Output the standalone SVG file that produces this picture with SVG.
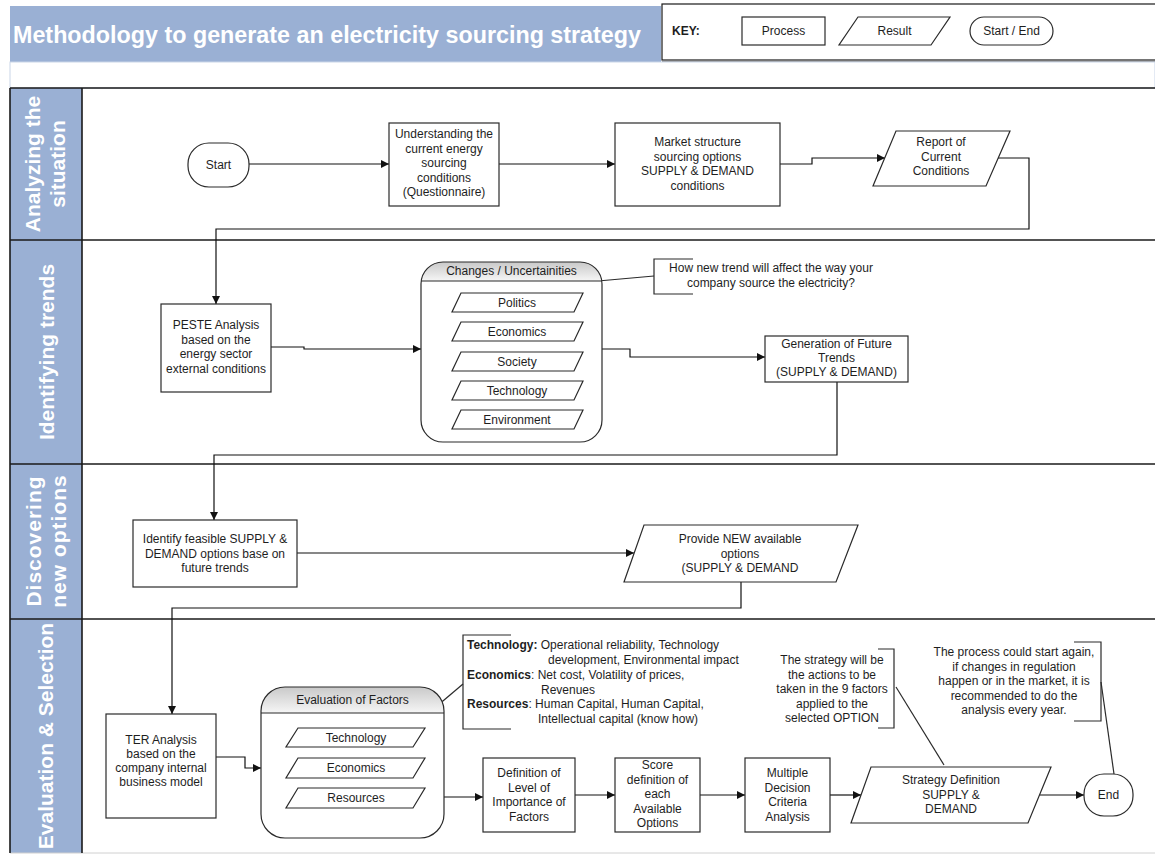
<svg xmlns="http://www.w3.org/2000/svg" width="1155" height="856" viewBox="0 0 1155 856">
  <defs>
    <marker id="arrow" viewBox="0 0 10 10" refX="10" refY="5" markerWidth="9" markerHeight="8" markerUnits="userSpaceOnUse" orient="auto">
      <path d="M0,0 L10,5 L0,10 z" fill="#111"/>
    </marker>
    <marker id="arrowSmall" viewBox="0 0 10 10" refX="10" refY="5" markerWidth="7" markerHeight="7" markerUnits="userSpaceOnUse" orient="auto">
      <path d="M0,0 L10,5 L0,10 z" fill="#111"/>
    </marker>
    <linearGradient id="hdrGrad" x1="0" y1="0" x2="0" y2="1">
      <stop offset="0" stop-color="#c9c9c9"/>
      <stop offset="1" stop-color="#f6f6f6"/>
    </linearGradient>
    <style>
      .txt { font-family: "Liberation Sans", Arial, sans-serif; font-size: 12px; fill: #1e1e1e; }
      .mid { text-anchor: middle; }
      .bold { font-weight: bold; }
      .lane { font-family: "Liberation Sans", Arial, sans-serif; font-size: 21px; font-weight: bold; fill: #ffffff; text-anchor: middle; }
      .title { font-family: "Liberation Sans", Arial, sans-serif; font-size: 23px; font-weight: bold; fill: #ffffff; }
      .box { fill: #ffffff; stroke: #2a2a2a; stroke-width: 1.2; }
      .conn { fill: none; stroke: #111; stroke-width: 1.2; }
      .note { fill: none; stroke: #2a2a2a; stroke-width: 1.2; }
      .border { stroke: #1a1a1a; stroke-width: 1.6; }
    </style>
  </defs>

  <rect x="0" y="0" width="1155" height="856" fill="#ffffff"/>

  <!-- Title bar -->
  <g id="title">
    <rect x="10" y="6" width="651" height="56" fill="#9ab0d4"/>
    <text class="title" x="13" y="43" textLength="628" lengthAdjust="spacingAndGlyphs">Methodology to generate an electricity sourcing strategy</text>
  </g>

  <!-- Legend -->
  <g id="key">
    <rect x="662" y="4" width="495" height="56" fill="#ffffff" stroke="#1a1a1a" stroke-width="1.2"/>
    <line x1="662" y1="62" x2="1155" y2="62" stroke="#1a1a1a" stroke-width="1.2"/>
    <text class="txt bold" x="672" y="35">KEY:</text>
    <rect class="box" x="742" y="17" width="83" height="28"/>
    <text class="txt mid" x="783.5" y="35">Process</text>
    <polygon class="box" points="858,17 950,17 931,45 839,45"/>
    <text class="txt mid" x="894.5" y="35">Result</text>
    <rect class="box" x="970" y="17" width="83" height="28" rx="14"/>
    <text class="txt mid" x="1011.5" y="35">Start / End</text>
  </g>

  <!-- Gap strip under the title -->
  <rect x="10" y="62" width="1145" height="26" fill="#ffffff" stroke="#c9d5e8" stroke-width="1"/>

  <!-- Swimlanes -->
  <g id="lanes">
    <rect x="10" y="88" width="72" height="765" fill="#9ab0d4"/>
    <line class="border" x1="10" y1="88" x2="1155" y2="88"/>
    <line class="border" x1="10" y1="240" x2="1155" y2="240"/>
    <line class="border" x1="10" y1="464" x2="1155" y2="464"/>
    <line class="border" x1="10" y1="619" x2="1155" y2="619"/>
    <line x1="10" y1="853" x2="1155" y2="853" stroke="#d0d0d0" stroke-width="1"/>
    <line class="border" x1="10" y1="88" x2="10" y2="853"/>
    <line class="border" x1="82" y1="88" x2="82" y2="853"/>

    <text class="lane" transform="translate(40,164) rotate(-90)">Analyzing the</text>
    <text class="lane" transform="translate(65,164) rotate(-90)">situation</text>
    <text class="lane" transform="translate(54,352) rotate(-90)">Identifying trends</text>
    <text class="lane" transform="translate(41,541) rotate(-90)" letter-spacing="1">Discovering</text>
    <text class="lane" transform="translate(66,541) rotate(-90)" letter-spacing="1">new options</text>
    <text class="lane" transform="translate(53,736) rotate(-90)">Evaluation &amp; Selection</text>
  </g>

  <!-- Connectors -->
  <g id="connectors">
    <path class="conn" d="M249,164 H389" marker-end="url(#arrow)"/>
    <path class="conn" d="M499,164 H615" marker-end="url(#arrow)"/>
    <path class="conn" d="M780,164 H812 V158 H885" marker-end="url(#arrow)"/>
    <path class="conn" d="M998,158 H1029 V229 H216 V304" marker-end="url(#arrow)"/>
    <path class="conn" d="M271,347 H304 V349 H421" marker-end="url(#arrow)"/>
    <path class="conn" d="M602,349 H630 V357 H765" marker-end="url(#arrow)"/>
    <path class="conn" d="M837,382 V455 H214 V520" marker-end="url(#arrow)"/>
    <path class="conn" d="M297,553 H634" marker-end="url(#arrow)"/>
    <path class="conn" d="M741,582 V608 H172 V714" marker-end="url(#arrow)"/>
    <path class="conn" d="M216,757 H245 V768 H261" marker-end="url(#arrow)"/>
    <path class="conn" d="M444,797 H483" marker-end="url(#arrow)"/>
    <path class="conn" d="M575,795 H615" marker-end="url(#arrow)"/>
    <path class="conn" d="M700,795 H745" marker-end="url(#arrow)"/>
    <path class="conn" d="M830,795 H861" marker-end="url(#arrow)"/>
    <path class="conn" d="M1040,795 H1084" marker-end="url(#arrow)"/>
    <!-- internal links inside the containers -->
    <path class="conn" d="M517,322 V312" marker-end="url(#arrowSmall)"/>
    <path class="conn" d="M517,381 V371" marker-end="url(#arrowSmall)"/>
    <path class="conn" d="M356,758 V747" marker-end="url(#arrowSmall)"/>
    <path class="conn" d="M356,788 V778" marker-end="url(#arrowSmall)"/>
    <!-- annotation leaders -->
    <path class="note" d="M598,281 L654,276"/>
    <path class="note" d="M437,706 L463,684"/>
    <path class="note" d="M896,687 L944,765"/>
    <path class="note" d="M1101,682 L1114,774"/>
  </g>

  <!-- Lane 1 -->
  <g id="start">
    <rect class="box" x="188" y="143" width="61" height="44" rx="21"/>
    <text class="txt mid" x="218.5" y="169">Start</text>
  </g>
  <g id="understanding">
    <rect class="box" x="389" y="123" width="110" height="83"/>
    <text class="txt mid" y="138"><tspan x="444">Understanding the</tspan><tspan x="444" dy="14.5">current energy</tspan><tspan x="444" dy="14.5">sourcing</tspan><tspan x="444" dy="14.5">conditions</tspan><tspan x="444" dy="14.5">(Questionnaire)</tspan></text>
  </g>
  <g id="market">
    <rect class="box" x="615" y="123" width="165" height="83"/>
    <text class="txt mid" y="146"><tspan x="697.5">Market structure</tspan><tspan x="697.5" dy="14.5">sourcing options</tspan><tspan x="697.5" dy="14.5">SUPPLY &amp; DEMAND</tspan><tspan x="697.5" dy="14.5">conditions</tspan></text>
  </g>
  <g id="report">
    <polygon class="box" points="896,131 1010,131 986,186 873,186"/>
    <text class="txt mid" y="146"><tspan x="941">Report of</tspan><tspan x="941" dy="14.5">Current</tspan><tspan x="941" dy="14.5">Conditions</tspan></text>
  </g>

  <!-- Lane 2 -->
  <g id="peste">
    <rect class="box" x="161" y="304" width="110" height="88"/>
    <text class="txt mid" y="329"><tspan x="216">PESTE Analysis</tspan><tspan x="216" dy="14.5">based on the</tspan><tspan x="216" dy="14.5">energy sector</tspan><tspan x="216" dy="14.5">external conditions</tspan></text>
  </g>
  <g id="changes">
    <rect x="421" y="262" width="181" height="180" rx="22" fill="#ffffff"/>
    <path d="M421,281 V284 H602 V281 V284 Z" fill="none"/>
    <path d="M443,262 H580 A22,22 0 0 1 602,281 H421 A22,22 0 0 1 443,262 Z" fill="url(#hdrGrad)"/>
    <rect x="421" y="262" width="181" height="180" rx="22" fill="none" stroke="#2a2a2a" stroke-width="1.2"/>
    <line x1="421" y1="281" x2="602" y2="281" stroke="#2a2a2a" stroke-width="1.2"/>
    <text class="txt mid" x="511.5" y="275">Changes / Uncertainities</text>
    <polygon class="box" points="461,293 583,293 574,312 452,312"/>
    <text class="txt mid" x="517" y="306.5">Politics</text>
    <polygon class="box" points="461,322 583,322 574,341 452,341"/>
    <text class="txt mid" x="517" y="335.5">Economics</text>
    <polygon class="box" points="461,352 583,352 574,371 452,371"/>
    <text class="txt mid" x="517" y="365.5">Society</text>
    <polygon class="box" points="461,381 583,381 574,400 452,400"/>
    <text class="txt mid" x="517" y="394.5">Technology</text>
    <polygon class="box" points="461,410 583,410 574,429 452,429"/>
    <text class="txt mid" x="517" y="423.5">Environment</text>
  </g>
  <g id="trend-note">
    <path class="note" d="M693,259 H654 V294 H693"/>
    <text class="txt mid" y="272"><tspan x="771">How new trend will affect the way your</tspan><tspan x="771" dy="15">company source the electricity?</tspan></text>
  </g>
  <g id="generation">
    <rect class="box" x="765" y="336" width="143" height="46"/>
    <text class="txt mid" y="347.5"><tspan x="836.5">Generation of Future</tspan><tspan x="836.5" dy="14">Trends</tspan><tspan x="836.5" dy="14">(SUPPLY &amp; DEMAND)</tspan></text>
  </g>

  <!-- Lane 3 -->
  <g id="identify">
    <rect class="box" x="133" y="520" width="164" height="67"/>
    <text class="txt mid" y="543"><tspan x="215">Identify feasible SUPPLY &amp;</tspan><tspan x="215" dy="14.5">DEMAND options base on</tspan><tspan x="215" dy="14.5">future trends</tspan></text>
  </g>
  <g id="provide">
    <polygon class="box" points="644,525 858,525 836,582 624,582"/>
    <text class="txt mid" y="543"><tspan x="740">Provide NEW available</tspan><tspan x="740" dy="14.5">options</tspan><tspan x="740" dy="14.5">(SUPPLY &amp; DEMAND</tspan></text>
  </g>

  <!-- Lane 4 -->
  <g id="ter">
    <rect class="box" x="106" y="714" width="110" height="104"/>
    <text class="txt mid" y="744"><tspan x="161">TER Analysis</tspan><tspan x="161" dy="14">based on the</tspan><tspan x="161" dy="14">company internal</tspan><tspan x="161" dy="14">business model</tspan></text>
  </g>
  <g id="evaluation">
    <rect x="261" y="687" width="183" height="151" rx="24" fill="#ffffff"/>
    <path d="M285,687 H420 A24,24 0 0 1 444,711 V713 H261 V711 A24,24 0 0 1 285,687 Z" fill="url(#hdrGrad)"/>
    <rect x="261" y="687" width="183" height="151" rx="24" fill="none" stroke="#2a2a2a" stroke-width="1.2"/>
    <line x1="261" y1="713" x2="444" y2="713" stroke="#2a2a2a" stroke-width="1.2"/>
    <text class="txt mid" x="352.5" y="704">Evaluation of Factors</text>
    <polygon class="box" points="298,728 425,728 413,747 286,747"/>
    <text class="txt mid" x="356" y="741.5">Technology</text>
    <polygon class="box" points="298,758 425,758 413,778 286,778"/>
    <text class="txt mid" x="356" y="772">Economics</text>
    <polygon class="box" points="298,788 425,788 413,808 286,808"/>
    <text class="txt mid" x="356" y="802">Resources</text>
  </g>
  <g id="factors-note">
    <path class="note" d="M511,635 H463 V729 H511"/>
    <text class="txt" y="649">
      <tspan x="467" class="bold">Technology:</tspan><tspan> Operational reliability, Technology</tspan>
      <tspan x="548" dy="15">development, Environmental impact</tspan>
      <tspan x="467" dy="15" class="bold">Economics</tspan><tspan>: Net cost, Volatility of prices,</tspan>
      <tspan x="541" dy="14.5">Revenues</tspan>
      <tspan x="467" dy="14.5" class="bold">Resources</tspan><tspan>: Human Capital, Human Capital,</tspan>
      <tspan x="538" dy="15">Intellectual capital (know how)</tspan>
    </text>
  </g>
  <g id="importance">
    <rect class="box" x="483" y="758" width="92" height="74"/>
    <text class="txt mid" y="777"><tspan x="529">Definition of</tspan><tspan x="529" dy="14.5">Level of</tspan><tspan x="529" dy="14.5">Importance of</tspan><tspan x="529" dy="14.5">Factors</tspan></text>
  </g>
  <g id="score">
    <rect class="box" x="615" y="758" width="85" height="74"/>
    <text class="txt mid" y="769"><tspan x="657.5">Score</tspan><tspan x="657.5" dy="14.5">definition of</tspan><tspan x="657.5" dy="14.5">each</tspan><tspan x="657.5" dy="14.5">Available</tspan><tspan x="657.5" dy="14.5">Options</tspan></text>
  </g>
  <g id="mcda">
    <rect class="box" x="745" y="758" width="85" height="74"/>
    <text class="txt mid" y="777"><tspan x="787.5">Multiple</tspan><tspan x="787.5" dy="14.5">Decision</tspan><tspan x="787.5" dy="14.5">Criteria</tspan><tspan x="787.5" dy="14.5">Analysis</tspan></text>
  </g>
  <g id="strategy-note">
    <path class="note" d="M878,649 H894 V728 H878"/>
    <text class="txt mid" y="664"><tspan x="832">The strategy will be</tspan><tspan x="832" dy="14.5">the actions to be</tspan><tspan x="832" dy="14.5">taken in the 9 factors</tspan><tspan x="832" dy="14.5">applied to the</tspan><tspan x="832" dy="14.5">selected OPTION</tspan></text>
  </g>
  <g id="strategy">
    <polygon class="box" points="871,767 1051,767 1028,823 851,823"/>
    <text class="txt mid" y="784"><tspan x="951">Strategy Definition</tspan><tspan x="951" dy="14.5">SUPPLY &amp;</tspan><tspan x="951" dy="14.5">DEMAND</tspan></text>
  </g>
  <g id="restart-note">
    <path class="note" d="M1074,642 H1101 V721 H1074"/>
    <text class="txt mid" y="656"><tspan x="1014">The process could start again,</tspan><tspan x="1014" dy="14.5">if changes in regulation</tspan><tspan x="1014" dy="14.5">happen or in the market, it is</tspan><tspan x="1014" dy="14.5">recommended to do the</tspan><tspan x="1014" dy="14.5">analysis every year.</tspan></text>
  </g>
  <g id="end">
    <rect class="box" x="1084" y="774" width="49" height="42" rx="20"/>
    <text class="txt mid" x="1108.5" y="799">End</text>
  </g>
</svg>
